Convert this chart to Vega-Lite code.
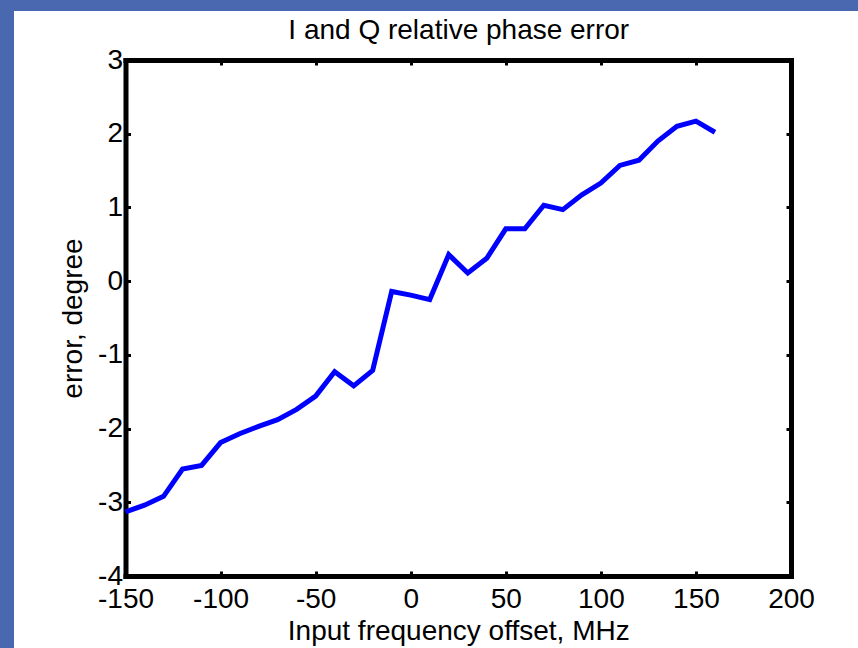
{
  "$schema": "https://vega.github.io/schema/vega-lite/v6.json",
  "autosize": "none",
  "width": 844,
  "height": 637,
  "padding": {"left": 14, "top": 11, "right": 0, "bottom": 0},
  "background": "#4a68b0",
  "config": {
    "view": {"fill": "white", "stroke": null},
    "font": "Liberation Sans",
    "axis": {
      "grid": false,
      "domainColor": "black",
      "domainWidth": 5,
      "domainCap": "square",
      "tickColor": "black",
      "tickWidth": 3,
      "tickSize": -5,
      "labelColor": "black",
      "labelFontSize": 28,
      "labelFlush": false,
      "labelOverlap": false,
      "labelExpr": "'' + datum.value",
      "titleColor": "black",
      "titleFontSize": 28,
      "titleFontWeight": "normal"
    }
  },
  "data": {
    "values": [
      {"offset": -150, "error": -3.13},
      {"offset": -140, "error": -3.04},
      {"offset": -130, "error": -2.92},
      {"offset": -120, "error": -2.55},
      {"offset": -110, "error": -2.5},
      {"offset": -100, "error": -2.19},
      {"offset": -90, "error": -2.07},
      {"offset": -80, "error": -1.97},
      {"offset": -70, "error": -1.88},
      {"offset": -60, "error": -1.74},
      {"offset": -50, "error": -1.56},
      {"offset": -40, "error": -1.23},
      {"offset": -30, "error": -1.42},
      {"offset": -20, "error": -1.21},
      {"offset": -10, "error": -0.14},
      {"offset": 0, "error": -0.19},
      {"offset": 10, "error": -0.25},
      {"offset": 20, "error": 0.36},
      {"offset": 30, "error": 0.11},
      {"offset": 40, "error": 0.31},
      {"offset": 50, "error": 0.71},
      {"offset": 60, "error": 0.71},
      {"offset": 70, "error": 1.03},
      {"offset": 80, "error": 0.97},
      {"offset": 90, "error": 1.17},
      {"offset": 100, "error": 1.33},
      {"offset": 110, "error": 1.57},
      {"offset": 120, "error": 1.64},
      {"offset": 130, "error": 1.9},
      {"offset": 140, "error": 2.1},
      {"offset": 150, "error": 2.17},
      {"offset": 160, "error": 2.02}
    ]
  },
  "layer": [
    {
      "mark": {"type": "line", "color": "#0000ff", "strokeWidth": 5, "strokeJoin": "miter"},
      "encoding": {
        "x": {
          "field": "offset",
          "type": "quantitative",
          "scale": {"domain": [-150, 200], "range": [111.5, 777], "nice": false, "zero": false},
          "axis": {
            "orient": "bottom",
            "offset": -72,
            "values": [-150, -100, -50, 0, 50, 100, 150, 200],
            "labelPadding": 14,
            "title": "Input frequency offset, MHz",
            "titlePadding": 4
          }
        },
        "y": {
          "field": "error",
          "type": "quantitative",
          "scale": {"domain": [-4, 3], "range": [565, 49], "nice": false, "zero": false},
          "axis": {
            "orient": "left",
            "offset": -111.5,
            "values": [-4, -3, -2, -1, 0, 1, 2, 3],
            "labelPadding": 8,
            "title": "error, degree",
            "titlePadding": 10
          }
        }
      }
    },
    {
      "mark": {"type": "point", "opacity": 0},
      "encoding": {
        "x": {
          "field": "offset",
          "type": "quantitative",
          "scale": {"domain": [-150, 200], "range": [111.5, 777], "nice": false, "zero": false},
          "axis": {
            "orient": "top",
            "offset": -49,
            "values": [-150, -100, -50, 0, 50, 100, 150, 200],
            "labels": false,
            "title": "I and Q relative phase error",
            "titlePadding": 14
          }
        },
        "y": {
          "field": "error",
          "type": "quantitative",
          "scale": {"domain": [-4, 3], "range": [565, 49], "nice": false, "zero": false},
          "axis": {
            "orient": "right",
            "offset": -67,
            "values": [-4, -3, -2, -1, 0, 1, 2, 3],
            "labels": false,
            "title": null
          }
        }
      }
    }
  ],
  "resolve": {"axis": {"x": "independent", "y": "independent"}}
}
